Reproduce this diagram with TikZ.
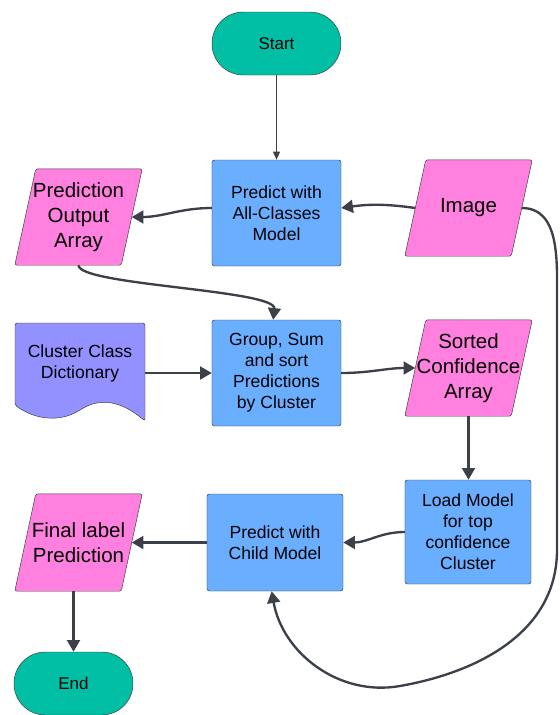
\documentclass[tikz,border=0pt]{standalone}
\usepackage{fontspec}
\setmainfont{Liberation Sans}
\usepackage{tikz}
\usetikzlibrary{
  arrows.meta,
  positioning,
  backgrounds
}
\definecolor{termfill}{HTML}{00BFA5}
\definecolor{procfill}{HTML}{6AAEFF}
\definecolor{iofill}{HTML}{FF80DF}
\definecolor{docfill}{HTML}{9391FF}
\definecolor{edgecolor}{HTML}{3A3A3A}
\definecolor{flowcolor}{HTML}{3C4149}

\begin{document}
\begin{tikzpicture}[
  x=0.03cm, y=-0.03cm,
  term/.style={draw=edgecolor, fill=termfill, rounded corners=0.94cm, minimum width=3.87cm, minimum height=1.89cm, font=\fontsize{14.5}{17}\selectfont},
  proc/.style={draw=edgecolor, fill=procfill, rounded corners=2pt, minimum width=3.87cm, minimum height=3.18cm, align=center, font=\fontsize{15}{17.9}\selectfont},
  io/.style={minimum width=3.81cm, minimum height=2.88cm, align=center, inner sep=0pt, font=\fontsize{17.5}{21.3}\selectfont},
  flow/.style={draw=flowcolor, line width=2pt, -{Triangle[length=10pt, width=11pt]}},
]
  \useasboundingbox (0,0) rectangle (560,715);

  % Terminals
  \node[term] (start) at (276.5,43.5) {Start};
  \node[term, minimum width=3.57cm] (end) at (73.5,683.5) {End};

  % Process steps
  \node[proc] (all) at (276.5,213) {Predict with\\All-Classes\\Model};
  \node[proc] (grp) at (276.5,373) {Group, Sum\\and sort\\Predictions\\by Cluster};
  \node[proc, minimum width=3.78cm, minimum height=3.12cm] (load) at (468,532) {Load Model\\for top\\confidence\\Cluster};
  \node[proc, minimum width=4.08cm, minimum height=2.91cm] (child) at (275,542.5) {Predict with\\Child Model};

  % Data
  \node[io] (poa) at (78.5,217) {Prediction\\Output\\Array};
  \node[io] (img) at (468.5,208) {Image};
  \node[io] (srt) at (468.5,368) {Sorted\\Confidence\\Array};
  \node[io, minimum height=2.91cm] (fin) at (78.5,542.5) {Final label\\Prediction};
  \node[io, minimum width=3.9cm, font=\fontsize{15}{17.9}\selectfont] (dict) at (80,363) {Cluster Class\\Dictionary};

  \begin{scope}[on background layer]
    \foreach \n in {poa,img,srt,fin}
      \draw[draw=edgecolor, fill=iofill, rounded corners=2pt]
        ([xshift=0.63cm]\n.north west) -- (\n.north east)
        -- ([xshift=-0.63cm]\n.south east) -- (\n.south west) -- cycle;
    \draw[draw=edgecolor, fill=docfill, rounded corners=2pt]
      (15,405) -- (15,323) -- (145,323) -- (145,421)
      .. controls (120,400) and (100,398) .. (80,410)
      .. controls (60,422) and (35,420) .. (15,405) -- cycle;
  \end{scope}

  % Loop coordinates
  \coordinate (rt) at (557,300);
  \coordinate (rb) at (557,550);
  \coordinate (lp) at (400,686);

  % Connectors
  \draw[draw=flowcolor, line width=0.8pt, -{Triangle[length=7pt, width=6pt]}] (start) -- (all);
  \draw[flow] ([yshift=0.15cm]all.west) to[out=180, in=0] ([xshift=-0.315cm]poa.east);
  \draw[flow] ([xshift=0.315cm]img.west) to[bend right=8] ([yshift=0.15cm]all.east);
  \draw[flow] (poa.south) .. controls ([yshift=-0.6cm]poa.south) and ([yshift=0.9cm]grp.north) .. ([xshift=-0.1cm]grp.north);
  \draw[flow] (dict.east |- grp) -- (grp.west);
  \draw[flow] (grp.east) to[out=0, in=180] ([xshift=0.315cm]srt.west);
  \draw[flow] (srt.south) -- (srt.south |- load.north);
  \draw[flow] (load.west) to[out=180, in=0] (child.east);
  \draw[flow] (child.west) -- ([xshift=-0.315cm]fin.east);
  \draw[flow] (fin.south -| end) -- (end.north);
  \draw[flow] ([xshift=-0.315cm]img.east) to[out=0, in=90] (rt) -- (rb)
    to[out=-90, in=10] (lp) to[out=190, in=-80] ([xshift=-0.1cm]child.south);
\end{tikzpicture}
\end{document}
